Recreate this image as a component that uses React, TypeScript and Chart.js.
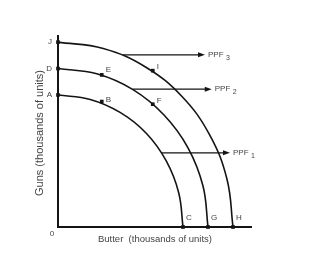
import { useEffect, useRef } from 'react';
import { Chart, registerables } from 'chart.js';
Chart.register(...registerables);

// Production possibility frontiers (thousands of units): butter (x), guns (y)
const ppf1Curve = [
  { x: 0, y: 5 }, { x: 1.29, y: 4.83 }, { x: 2.5, y: 4.33 }, { x: 3.54, y: 3.54 },
  { x: 4.33, y: 2.5 }, { x: 4.83, y: 1.29 }, { x: 5, y: 0 },
];
const ppf2Curve = [
  { x: 0, y: 6 }, { x: 1.55, y: 5.8 }, { x: 3, y: 5.2 }, { x: 4.24, y: 4.24 },
  { x: 5.2, y: 3 }, { x: 5.8, y: 1.55 }, { x: 6, y: 0 },
];
const ppf3Curve = [
  { x: 0, y: 7 }, { x: 1.81, y: 6.76 }, { x: 3.5, y: 6.06 }, { x: 4.95, y: 4.95 },
  { x: 6.06, y: 3.5 }, { x: 6.76, y: 1.81 }, { x: 7, y: 0 },
];

const pointLabels = ['J', 'D', 'A', 'E', 'B', 'I', 'F', 'C', 'G', 'H'];
const pointX = [0, 0, 0, 1.75, 1.75, 3.79, 3.79, 5, 6, 7];
const pointY = [7, 6, 5, 5.76, 4.75, 5.92, 4.65, 0, 0, 0];

const arrowNames = ['PPF', 'PPF', 'PPF'];
const arrowSubs = ['3', '2', '1'];
const arrowY = [6.52, 5.22, 2.81];
const arrowXStart = [2.6, 2.99, 4.15];
const arrowXEnd = [5.88, 6.15, 6.88];

const xTitle = 'Butter  (thousands of units)';
const yTitle = 'Guns (thousands of units)';
const originLabel = '0';

// style: label offsets (px) for each point label
const labelOffsets: [number, number, CanvasTextAlign][] = [
  [-6, 0, 'right'], [-6, 0, 'right'], [-6, 0, 'right'],
  [4, -5, 'left'], [4, -2, 'left'], [4, -4, 'left'], [4, -3, 'left'],
  [3, -9, 'left'], [3, -9, 'left'], [3, -9, 'left'],
];

const INK = '#141414';
const TEXT = '#444444';
const FONT = '"Liberation Sans", Arial, sans-serif';

const drawPlugin = {
  id: 'ppfDecor',
  beforeDatasetsDraw(chart: any) {
    const { ctx, chartArea } = chart;
    ctx.save();
    ctx.strokeStyle = INK;
    ctx.lineWidth = 2;
    ctx.beginPath();
    ctx.moveTo(chartArea.left, chartArea.top);
    ctx.lineTo(chartArea.left, chartArea.bottom);
    ctx.lineTo(chartArea.right, chartArea.bottom);
    ctx.stroke();
    ctx.restore();
  },
  afterDatasetsDraw(chart: any) {
    const { ctx, chartArea } = chart;
    const xs = chart.scales.x;
    const ys = chart.scales.y;
    ctx.save();
    // arrows
    for (let i = 0; i < arrowY.length; i++) {
      const y = ys.getPixelForValue(arrowY[i]);
      const x0 = xs.getPixelForValue(arrowXStart[i]);
      const x1 = xs.getPixelForValue(arrowXEnd[i]);
      ctx.strokeStyle = INK;
      ctx.lineWidth = 1.3;
      ctx.beginPath();
      ctx.moveTo(x0, y);
      ctx.lineTo(x1 - 5, y);
      ctx.stroke();
      ctx.fillStyle = INK;
      ctx.beginPath();
      ctx.moveTo(x1, y);
      ctx.lineTo(x1 - 7, y - 2.5);
      ctx.lineTo(x1 - 7, y + 2.5);
      ctx.closePath();
      ctx.fill();
      ctx.fillStyle = TEXT;
      ctx.font = `8px ${FONT}`;
      ctx.textAlign = 'left';
      ctx.textBaseline = 'middle';
      ctx.fillText(arrowNames[i], x1 + 3, y);
      const w = ctx.measureText(arrowNames[i]).width;
      ctx.font = `7px ${FONT}`;
      ctx.fillText(arrowSubs[i], x1 + 3 + w + 2.5, y + 3);
    }
    // point labels
    ctx.fillStyle = TEXT;
    ctx.font = `8px ${FONT}`;
    ctx.textBaseline = 'middle';
    for (let i = 0; i < pointLabels.length; i++) {
      const px = xs.getPixelForValue(pointX[i]);
      const py = ys.getPixelForValue(pointY[i]);
      const [dx, dy, align] = labelOffsets[i];
      ctx.textAlign = align;
      ctx.fillText(pointLabels[i], px + dx, py + dy);
    }
    // origin
    ctx.textAlign = 'center';
    ctx.fillText(originLabel, chartArea.left - 6, chartArea.bottom + 7);
    // axis titles
    ctx.font = `9.5px ${FONT}`;
    ctx.textAlign = 'center';
    ctx.fillText(xTitle, 155, chartArea.bottom + 12);
    ctx.save();
    ctx.translate(40, 133);
    ctx.rotate(-Math.PI / 2);
    ctx.font = `11px ${FONT}`;
    ctx.fillText(yTitle, 0, 0);
    ctx.restore();
    ctx.restore();
  },
};

export default function App() {
  const ref = useRef<HTMLCanvasElement>(null);
  useEffect(() => {
    document.body.style.margin = '0';
    const curveStyle = {
      borderColor: INK,
      borderWidth: 1.6,
      pointRadius: 0,
      tension: 0.4,
      fill: false,
    };
    const chart = new Chart(ref.current!, {
      type: 'line',
      data: {
        datasets: [
          { ...curveStyle, data: ppf1Curve } as any,
          { ...curveStyle, data: ppf2Curve } as any,
          { ...curveStyle, data: ppf3Curve } as any,
          {
            type: 'scatter',
            data: pointX.map((x, i) => ({ x, y: pointY[i] })),
            pointStyle: 'rect',
            pointRadius: 2.6,
            backgroundColor: INK,
            borderColor: INK,
            borderWidth: 0,
            showLine: false,
            clip: false,
          } as any,
        ],
      },
      options: {
        responsive: false,
        animation: false,
        layout: { padding: { left: 58, right: 75, top: 35, bottom: 27 } },
        plugins: { legend: { display: false }, tooltip: { enabled: false } },
        scales: {
          x: { type: 'linear', min: 0, max: 7.76, display: false },
          y: { type: 'linear', min: 0, max: 7.27, display: false },
        },
      },
      plugins: [drawPlugin],
    });
    return () => chart.destroy();
  }, []);
  return (
    <div style={{ width: 327, height: 254, background: '#fff' }}>
      <canvas ref={ref} width={327} height={254} />
    </div>
  );
}
